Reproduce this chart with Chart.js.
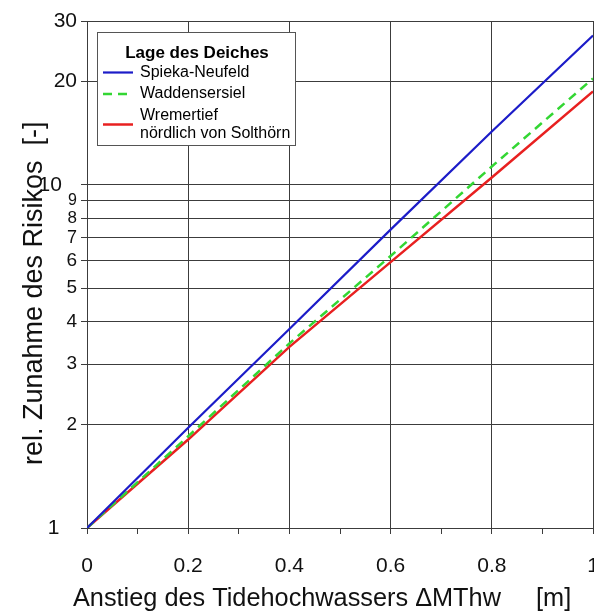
<!DOCTYPE html>
<html>
<head>
<meta charset="utf-8">
<script src="https://cdn.jsdelivr.net/npm/chart.js@4"></script>
<style>
  body { margin: 0; background: #fff; }
  canvas { display: block; }
</style>
</head>
<body>
<canvas id="riskChart" width="594" height="612"></canvas>
<script>
// Anstieg des Tidehochwassers [m]
const riseValues = [0, 0.2, 0.4, 0.6, 0.8, 1.0];

// rel. Zunahme des Risikos
const spiekaNeufeld = [1, 1.96, 3.8, 7.4, 14.3, 27.2];
const waddensersiel = [1, 1.85, 3.45, 6.2, 11.3, 20.4];
const wremertief = [1, 1.81, 3.37, 5.95, 10.5, 18.7];

const yTickValues = [1, 2, 3, 4, 5, 6, 7, 8, 9, 10, 20, 30];
const xTickValues = [0, 0.1, 0.2, 0.3, 0.4, 0.5, 0.6, 0.7, 0.8, 0.9, 1];
const xTickLabels = ['0', '', '0.2', '', '0.4', '', '0.6', '', '0.8', '', '1'];

const xTitle = 'Anstieg des Tidehochwassers \u0394MThw     [m]';

const FONT = 'Arial, "Liberation Sans", Helvetica, sans-serif';
Chart.defaults.font.family = FONT;
Chart.defaults.color = '#111';

const gridColor = '#3c3c3c';

function yTickSize(v) {
  if (v === 1 || v >= 10) return 21;
  if (v <= 6) return 19;
  if (v === 7) return 18;
  if (v === 8) return 17;
  return 16;
}

// Legend box inside the plot + x title (wider than the plot area, so drawn by hand)
const legendBox = {
  id: 'legendBox',
  afterDraw(chart) {
    const { ctx } = chart;
    ctx.save();
    ctx.fillStyle = '#111';
    ctx.textAlign = 'left';
    ctx.textBaseline = 'middle';
    ctx.font = '25.3px ' + FONT;
    ctx.fillText(xTitle, 73, 599);

    ctx.fillStyle = '#fff';
    ctx.strokeStyle = '#555';
    ctx.lineWidth = 1;
    ctx.fillRect(97.5, 32.5, 198, 113);
    ctx.strokeRect(97.5, 32.5, 198, 113);

    ctx.fillStyle = '#000';
    ctx.textAlign = 'center';
    ctx.font = 'bold 17px ' + FONT;
    ctx.fillText('Lage des Deiches', 197, 53);

    ctx.textAlign = 'left';
    ctx.font = '16px ' + FONT;
    let y = 72.5;
    chart.data.datasets.forEach(ds => {
      const lines = ds.label.split('\n');
      const mid = y + (lines.length - 1) * 9;
      ctx.strokeStyle = ds.borderColor;
      ctx.lineWidth = ds.borderWidth;
      ctx.setLineDash(ds.borderDash || []);
      ctx.beginPath();
      ctx.moveTo(103, mid);
      ctx.lineTo(133, mid);
      ctx.stroke();
      ctx.setLineDash([]);
      lines.forEach((t, i) => ctx.fillText(t, 140, y + i * 18));
      y += lines.length * 18 + 3.5;
    });
    ctx.restore();
  }
};

const toPoints = (vals) => riseValues.map((x, i) => ({ x: x, y: vals[i] }));

new Chart(document.getElementById('riskChart').getContext('2d'), {
  type: 'line',
  data: {
    datasets: [{
      label: 'Spieka-Neufeld',
      data: toPoints(spiekaNeufeld),
      borderColor: '#1c1cc8',
      borderWidth: 2.2
    }, {
      label: 'Waddensersiel',
      data: toPoints(waddensersiel),
      borderColor: '#33d633',
      borderWidth: 2.5,
      borderDash: [9, 6]
    }, {
      label: 'Wremertief\nnördlich von Solthörn',
      data: toPoints(wremertief),
      borderColor: '#e82020',
      borderWidth: 2.5
    }]
  },
  options: {
    responsive: false,
    animation: false,
    layout: { padding: { left: 0, right: 1, top: 21, bottom: 0 } },
    elements: { point: { radius: 0 }, line: { tension: 0 } },
    plugins: {
      legend: { display: false },
      tooltip: { enabled: false }
    },
    scales: {
      x: {
        type: 'linear',
        min: 0,
        max: 1,
        afterBuildTicks: (scale) => { scale.ticks = xTickValues.map(v => ({ value: v })); },
        afterFit: (scale) => { scale.height = 84; scale.paddingLeft = 0; scale.paddingRight = 0; },
        grid: {
          color: (c) => (c.index % 2 ? 'transparent' : gridColor),
          tickColor: gridColor,
          tickLength: 6
        },
        border: { color: gridColor },
        ticks: {
          autoSkip: false,
          maxRotation: 0,
          padding: 20,
          font: { size: 21 },
          callback: (v, i) => xTickLabels[i]
        }
      },
      y: {
        type: 'logarithmic',
        min: 1,
        max: 30,
        afterBuildTicks: (scale) => { scale.ticks = yTickValues.map(v => ({ value: v })); },
        afterFit: (scale) => { scale.width = 87; },
        grid: { color: gridColor, tickColor: gridColor, tickLength: 6 },
        border: { color: gridColor },
        ticks: {
          autoSkip: false,
          padding: 4,
          font: (c) => ({ size: yTickSize(c.tick ? c.tick.value : 10) }),
          callback: (v) => (v === 1 ? '1   ' : v === 10 ? '10  \u2006' : String(v))
        },
        title: {
          display: true,
          text: 'rel. Zunahme des Risikos  [-]     ',
          font: { size: 27 },
          padding: { top: 18, bottom: 0 }
        }
      }
    }
  },
  plugins: [legendBox]
});
</script>
</body>
</html>
